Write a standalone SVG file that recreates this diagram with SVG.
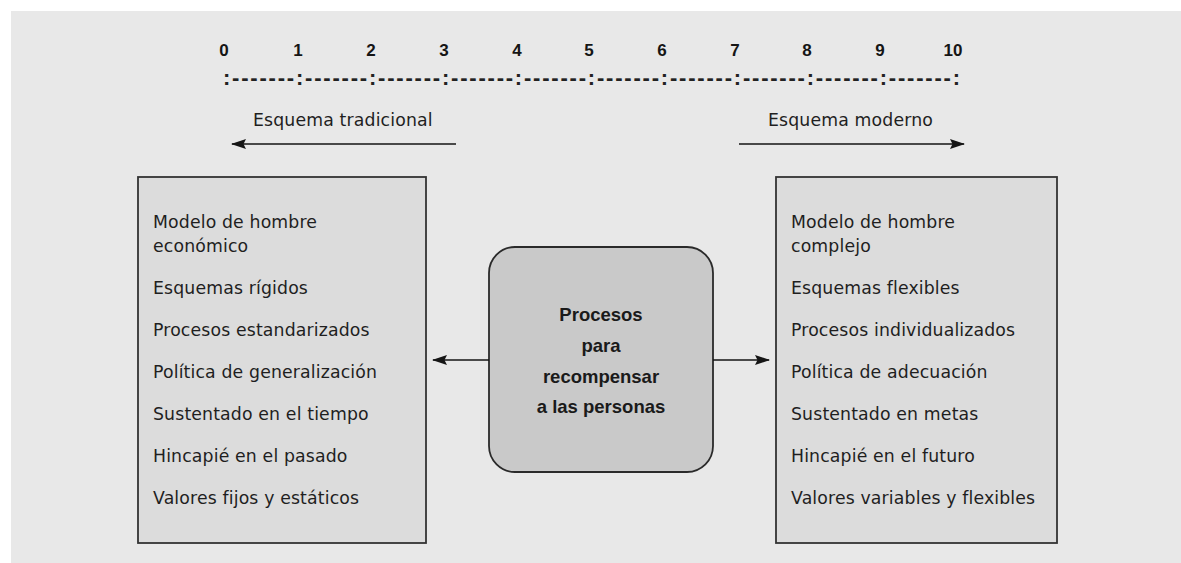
<svg xmlns="http://www.w3.org/2000/svg" width="1181" height="563" viewBox="0 0 1181 563">
<style>
.body{font-family:"DejaVu Sans","Liberation Sans",sans-serif;font-size:17.3px;fill:#1f1f1f;letter-spacing:0.15px}
.num{font-family:"Liberation Sans",Arial,sans-serif;font-weight:bold;font-size:17px;fill:#151515;text-anchor:middle}
.scale{font-family:"Liberation Sans",Arial,sans-serif;font-weight:bold;font-size:22px;fill:#222}
.ctr{font-family:"Liberation Sans",Arial,sans-serif;font-weight:bold;font-size:18.5px;fill:#1a1a1a;text-anchor:middle}
.box{fill:#dcdcdc;stroke:#333;stroke-width:1.8}
.cbox{fill:#c9c9c9;stroke:#2a2a2a;stroke-width:1.8}
.conn{stroke:#151515;stroke-width:1.7;fill:none;marker-end:url(#ah)}
</style>
<defs>
<marker id="ah" viewBox="0 0 15 11" refX="14" refY="5.5" markerWidth="15" markerHeight="11" markerUnits="userSpaceOnUse" orient="auto">
<path d="M0,0.5 L15,5.5 L0,10.5 L2.5,5.5 Z" fill="#151515"/>
</marker>
</defs>
<rect x="11" y="11" width="1170" height="552" fill="#e8e8e8"/>
<g id="scale">
<text class="num" x="224" y="56">0</text>
<text class="num" x="298" y="56">1</text>
<text class="num" x="371" y="56">2</text>
<text class="num" x="444" y="56">3</text>
<text class="num" x="517" y="56">4</text>
<text class="num" x="589" y="56">5</text>
<text class="num" x="662" y="56">6</text>
<text class="num" x="735" y="56">7</text>
<text class="num" x="807" y="56">8</text>
<text class="num" x="880" y="56">9</text>
<text class="num" x="953" y="56">10</text>
<text class="scale" x="223" y="84.5" textLength="737" lengthAdjust="spacing">:-------:-------:-------:-------:-------:-------:-------:-------:-------:-------:</text>
</g>
<g id="tradicional">
<text class="body" x="253" y="126">Esquema tradicional</text>
</g>
<g id="moderno">
<text class="body" x="768" y="126">Esquema moderno</text>
</g>
<g id="left-box">
<rect class="box" x="138" y="177" width="288" height="366"/>
<text class="body" x="153" y="228">Modelo de hombre</text>
<text class="body" x="153" y="252">económico</text>
<text class="body" x="153" y="294">Esquemas rígidos</text>
<text class="body" x="153" y="336">Procesos estandarizados</text>
<text class="body" x="153" y="378">Política de generalización</text>
<text class="body" x="153" y="420">Sustentado en el tiempo</text>
<text class="body" x="153" y="462">Hincapié en el pasado</text>
<text class="body" x="153" y="504">Valores fijos y estáticos</text>
</g>
<g id="center-box">
<rect class="cbox" x="489" y="247" width="224" height="225" rx="26" ry="26"/>
<text class="ctr" x="601" y="321">Procesos</text>
<text class="ctr" x="601" y="352">para</text>
<text class="ctr" x="601" y="383">recompensar</text>
<text class="ctr" x="601" y="413">a las personas</text>
</g>
<g id="right-box">
<rect class="box" x="776" y="177" width="281" height="366"/>
<text class="body" x="791" y="228">Modelo de hombre</text>
<text class="body" x="791" y="252">complejo</text>
<text class="body" x="791" y="294">Esquemas flexibles</text>
<text class="body" x="791" y="336">Procesos individualizados</text>
<text class="body" x="791" y="378">Política de adecuación</text>
<text class="body" x="791" y="420">Sustentado en metas</text>
<text class="body" x="791" y="462">Hincapié en el futuro</text>
<text class="body" x="791" y="504">Valores variables y flexibles</text>
</g>
<g id="connectors">
<line class="conn" x1="456" y1="144" x2="232" y2="144"/>
<line class="conn" x1="739" y1="144" x2="964" y2="144"/>
<line class="conn" x1="489" y1="360" x2="433" y2="360"/>
<line class="conn" x1="713" y1="360" x2="769" y2="360"/>
</g>
</svg>
